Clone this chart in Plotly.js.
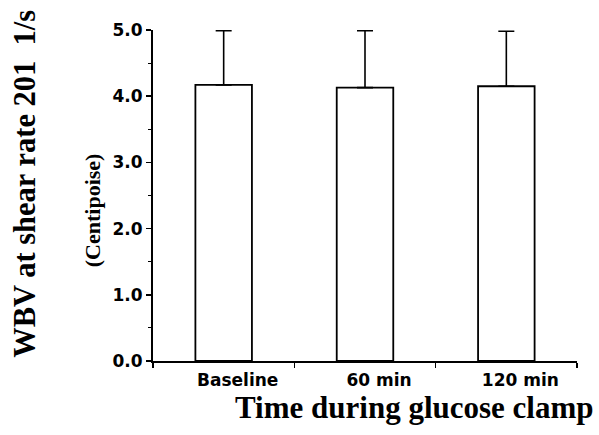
<!DOCTYPE html>
<html>
<head>
<meta charset="utf-8">
<script src="https://cdn.plot.ly/plotly-3.0.1.min.js"></script>
<style>html,body{margin:0;padding:0;background:#fff;}#chart{width:599px;height:435px;}</style>
</head>
<body>
<div id="chart"></div>
<script>
var categories = ["Baseline", "60 min", "120 min"];
var wbvMean = [4.17, 4.13, 4.15];
var wbvErrUp = [0.82, 0.86, 0.83];
var yTickVals = [0, 1, 2, 3, 4, 5];
var yTickText = ["0.0", "1.0", "2.0", "3.0", "4.0", "5.0"];

var trace = {
  type: "bar",
  x: categories,
  y: wbvMean,
  width: 0.4,
  marker: {color: "#ffffff", line: {color: "#000000", width: 1.8}},
  error_y: {type: "data", symmetric: false, array: wbvErrUp, arrayminus: [0, 0, 0],
            color: "#000000", thickness: 1.6, width: 8},
  hoverinfo: "none"
};

var tickFont = {family: "DejaVu Sans", size: 17, color: "#000000", weight: "bold"};
var layout = {
  width: 599, height: 435,
  margin: {l: 153, r: 22, t: 29.5, b: 74, pad: 0},
  paper_bgcolor: "#ffffff", plot_bgcolor: "#ffffff",
  showlegend: false,
  xaxis: {
    type: "category", range: [-0.5, 2.5],
    showline: true, linecolor: "#000000", linewidth: 2,
    ticks: "outside", tickson: "boundaries", ticklen: 5, tickwidth: 1.5, tickcolor: "#000000",
    showgrid: false, zeroline: false,
    tickfont: {family: "DejaVu Sans", size: 17, color: "#000000", weight: "bold"},
    ticklabelshift: 14, ticklabelstandoff: 3
  },
  yaxis: {
    range: [0, 5], showline: true, linecolor: "#000000", linewidth: 2,
    ticks: "outside", ticklen: 5, tickwidth: 1.5, tickcolor: "#000000",
    tickvals: yTickVals, ticktext: yTickText,
    showgrid: false, zeroline: false,
    tickfont: tickFont,
    minor: {dtick: 0.5, ticks: "outside", ticklen: 3, tickwidth: 1.2, tickcolor: "#000000", showgrid: false}
  },
  annotations: [
    {text: "WBV at shear rate 201\u00a0 1/s", textangle: -90, showarrow: false,
     xref: "paper", yref: "paper", xanchor: "center", yanchor: "middle",
     x: (25 - 153) / 424, y: (361 - 183.5) / 331.5,
     font: {family: "Liberation Serif", size: 30.5, color: "#000000", weight: "bold"}},
    {text: "(Centipoise)", textangle: -90, showarrow: false,
     xref: "paper", yref: "paper", xanchor: "center", yanchor: "middle",
     x: (92 - 153) / 424, y: (361 - 210) / 331.5,
     font: {family: "Liberation Serif", size: 22, color: "#000000", weight: "bold"}},
    {text: "Time during glucose clamp", showarrow: false,
     xref: "paper", yref: "paper", xanchor: "center", yanchor: "middle",
     x: (414 - 153) / 424, y: (361 - 408) / 331.5,
     font: {family: "Liberation Serif", size: 31, color: "#000000", weight: "bold"}}
  ]
};

Plotly.newPlot("chart", [trace], layout, {displayModeBar: false, staticPlot: true});
</script>
</body>
</html>
